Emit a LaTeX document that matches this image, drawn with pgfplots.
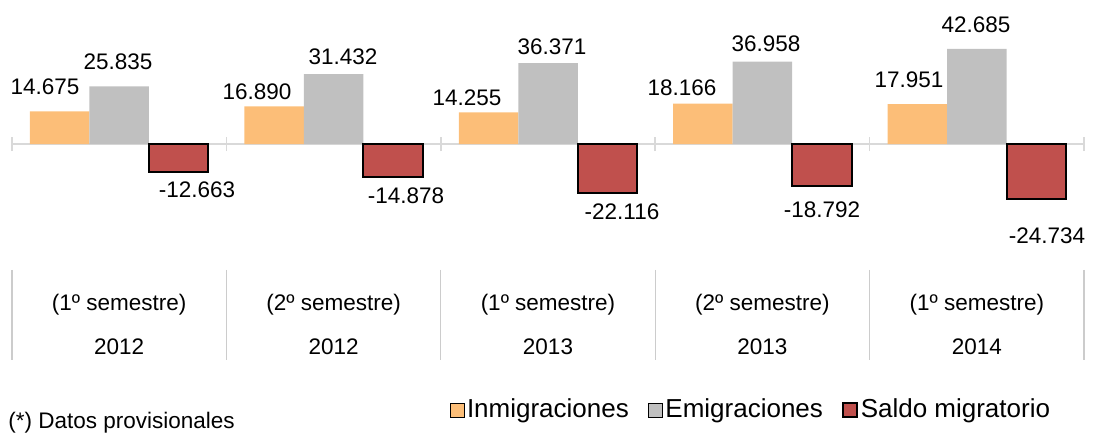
\documentclass[border=0pt]{standalone}
\usepackage{fontspec}
\setmainfont{Liberation Sans}
\usepackage{pgfplots}
\pgfplotsset{compat=1.18}
\definecolor{inm}{HTML}{FCBE78}
\definecolor{emi}{HTML}{C0C0C0}
\definecolor{sal}{HTML}{C0504D}
\definecolor{axg}{HTML}{D9D9D9}
\definecolor{sepg}{HTML}{CCCCCC}
\begin{document}
\begin{tikzpicture}
\begin{axis}[
  scale only axis, width=536pt, height=180pt,
  xmin=-0.5, xmax=4.5, ymin=-97.04, ymax=64.69,
  axis lines=none, clip=false,
  ybar, bar width=0.2775,
  legend style={at={(0.6895,-0.139)}, anchor=center, draw=none, fill=none,
    legend columns=3, font=\fontsize{13}{15}\selectfont,
    nodes={inner sep=1.2pt},
    /tikz/every even column/.append style={column sep=8.5pt}},
  legend image code/.code={\draw[#1] (0pt,-3.5pt) rectangle (7pt,3.5pt);},
]
% zero line with ticks
\draw[axg, line width=0.8pt] (axis cs:-0.5,0) -- (axis cs:4.5,0);
\pgfplotsinvokeforeach{-0.5,0.5,1.5,2.5,3.5,4.5}{
  \draw[axg, line width=0.8pt] ([yshift=-3.5pt]axis cs:#1,0) -- ([yshift=3.5pt]axis cs:#1,0);
  \draw[sepg, line width=0.6pt] (axis cs:#1,-56.6) -- (axis cs:#1,-97.04);
}
\addplot[fill=inm, draw=none, bar shift=-0.2775] coordinates {(0,14.675) (1,16.890) (2,14.255) (3,18.166) (4,17.951)};
\addplot[fill=emi, draw=none, bar shift=0] coordinates {(0,25.835) (1,31.432) (2,36.371) (3,36.958) (4,42.685)};
\addplot[fill=sal, draw=black, line width=1pt, bar shift=0.2775] coordinates {(0,-12.663) (1,-14.878) (2,-22.116) (3,-18.792) (4,-24.734)};
\legend{Inmigraciones, Emigraciones, Saldo migratorio}
% value labels
\begin{scope}[every node/.style={font=\fontsize{11.25}{13}\selectfont, inner sep=0pt, anchor=center}]
\node at (axis cs:-0.346,25.83) {14.675};
\node at (axis cs:-0.006,37.15) {25.835};
\node at (axis cs:0.363,-20.44) {-12.663};
\node at (axis cs:0.643,23.5) {16.890};
\node at (axis cs:1.044,39.2) {31.432};
\node at (axis cs:1.338,-23.4) {-14.878};
\node at (axis cs:1.622,20.66) {14.255};
\node at (axis cs:2.019,43.58) {36.371};
\node at (axis cs:2.345,-30.55) {-22.116};
\node at (axis cs:2.625,25.16) {18.166};
\node at (axis cs:3.017,45.2) {36.958};
\node at (axis cs:3.278,-29.65) {-18.792};
\node at (axis cs:3.684,28.75) {17.951};
\node at (axis cs:3.996,53.6) {42.685};
\node at (axis cs:4.327,-41.2) {-24.734};
% category labels
\node at (axis cs:0,-72.33) {(1º semestre)};
\node at (axis cs:1,-72.33) {(2º semestre)};
\node at (axis cs:2,-72.33) {(1º semestre)};
\node at (axis cs:3,-72.33) {(2º semestre)};
\node at (axis cs:4,-72.33) {(1º semestre)};
\node at (axis cs:0,-91.19) {2012};
\node at (axis cs:1,-91.19) {2012};
\node at (axis cs:2,-91.19) {2013};
\node at (axis cs:3,-91.19) {2013};
\node at (axis cs:4,-91.19) {2014};
\end{scope}
\node[anchor=west, font=\fontsize{11.25}{13}\selectfont, inner sep=0pt] at (axis cs:-0.5187,-125.3) {(*) Datos provisionales};
% bounding box
\path (axis cs:-0.556,64.69) rectangle (axis cs:4.542,-130.73);
\end{axis}
\end{tikzpicture}
\end{document}
